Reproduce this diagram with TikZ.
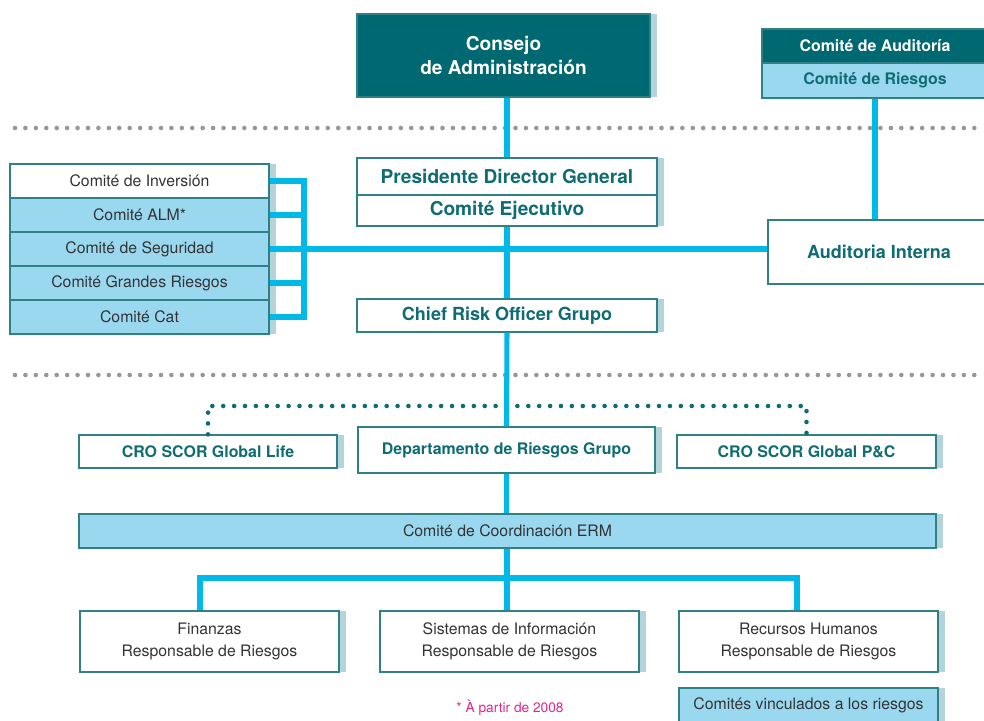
\documentclass[tikz,border=0pt]{standalone}
\usepackage{fontspec}
\setmainfont{TeX Gyre Heros}
\usetikzlibrary{shadows}

\definecolor{sdark}{HTML}{006870}
\definecolor{stext}{HTML}{0F6C72}
\definecolor{sedge}{HTML}{2F8186}
\definecolor{slite}{HTML}{9AD8F0}
\definecolor{sline}{HTML}{00B9E8}
\definecolor{sshade}{HTML}{B4D4DC}
\definecolor{sgray}{HTML}{979797}
\definecolor{spink}{HTML}{E6228C}

\newcommand\fbig{\bfseries\fontsize{16.3}{21}\selectfont}
\newcommand\fmid{\bfseries\fontsize{15.4}{19}\selectfont}
\newcommand\fsmall{\bfseries\fontsize{13.6}{17}\selectfont}
\newcommand\freg{\fontsize{13.5}{19}\selectfont}
\newcommand\fnote{\fontsize{11.7}{14}\selectfont}

\tikzset{
  box/.style={draw=sedge, line width=1.1pt, fill=white, inner sep=0pt, align=center,
    general shadow={fill=sshade, shadow xshift=0.21cm}},
  litebox/.style={box, fill=slite},
  darkbox/.style={box, fill=sdark, text=white},
  link/.style={sline, line width=4.3pt},
  dotlink/.style={stext, line width=3.9pt, line cap=round, dash pattern=on 0pt off 9.3pt},
  graydots/.style={sgray, line width=3.9pt, line cap=round, dash pattern=on 0pt off 8.9pt},
}

\begin{document}
\begin{tikzpicture}[x=0.03cm, y=-0.03cm]
\clip (0,0) rectangle (984,720);
% separators
\draw[graydots] (15,128) -- (984,128);
\draw[graydots] (15,375) -- (984,375);
% top level
\node[darkbox, minimum width=8.79cm, minimum height=2.49cm, font=\fbig] (consejo) at (503.5,55.5) {Consejo\\de Administración};
\node[darkbox, minimum width=6.78cm, minimum height=1.02cm, font=\fsmall] (auditoria) at (875,46) {Comité de Auditoría};
\node[litebox, minimum width=6.78cm, minimum height=1.05cm, font=\fsmall, text=stext] (riesgos) at (875,80.5) {Comité de Riesgos};
% management
\node[box, minimum width=9cm, minimum height=1.11cm, font=\fbig, text=stext] (presidente) at (507,176.5) {Presidente Director General};
\node[box, minimum width=9cm, minimum height=0.93cm, font=\fbig, text=stext] (ejecutivo) at (507,210.5) {Comité Ejecutivo};
\node[box, minimum width=9cm, minimum height=0.99cm, font=\fmid, text=stext] (cro) at (507,315.5) {Chief Risk Officer Grupo};
\node[box, minimum width=6.66cm, minimum height=1.92cm, font=\fmid, text=stext] (interna) at (879,252) {Auditoria Interna};
% committees
\foreach \i/\fc/\lab in {1/white/{Comité de Inversión}, 2/slite/{Comité ALM*}, 3/slite/{Comité de Seguridad},
    4/slite/{Comité Grandes Riesgos}, 5/slite/{Comité Cat}}
  \node[box, fill=\fc, minimum width=7.77cm, minimum height=1.02cm, font=\freg, text=black!80] (c\i) at (139.5,147+34*\i) {\lab};
% risk level
\node[box, minimum width=7.74cm, minimum height=0.99cm, font=\fsmall, text=stext] (life) at (208,451.5) {CRO SCOR Global Life};
\node[box, minimum width=8.91cm, minimum height=1.38cm, font=\fsmall, text=stext] (depto) at (506.5,450) {Departamento de Riesgos Grupo};
\node[box, minimum width=7.77cm, minimum height=0.99cm, font=\fsmall, text=stext] (pc) at (806.5,451.5) {CRO SCOR Global P\&C};
\node[litebox, minimum width=25.71cm, minimum height=1.02cm, font=\freg, text=black!80] (erm) at (507.5,531) {Comité de Coordinación ERM};
% responsables
\foreach \nm/\x/\lab in {finanzas/209.5/Finanzas, sistemas/509.5/Sistemas de Información, rrhh/808.5/Recursos Humanos}
  \node[box, minimum width=7.77cm, minimum height=1.83cm, font=\freg, text=black!80] (\nm) at (\x,641.5) {\lab\\Responsable de Riesgos};
\node[litebox, minimum width=7.77cm, minimum height=1.02cm, font=\freg, text=black!80] (vinculados) at (808.5,705) {Comités vinculados a los riesgos};
\node[font=\fnote, text=spink] (nota) at (510,708) {* À partir de 2008};
% dotted links
\coordinate (dotbar) at (507,406);
\draw[dotlink] (life.north) |- (dotbar) -| (pc.north);
% links
\coordinate (brk) at (304,249);
\coordinate (bl) at (200,578);
\coordinate (bm) at (507,578);
\coordinate (br) at (797,578);
\draw[link] (presidente.north) -- (presidente.north |- consejo.south);
\draw[link] (riesgos.south) -- (riesgos.south |- interna.north);
\draw[link] (ejecutivo.south) -- (cro.north);
\draw[link] (cro.south) -- (depto.north);
\draw[link] (depto.south) -- (depto.south |- erm.north);
\draw[link] (c1.east) -| (brk) |- (c5.east);
\foreach \i in {2,4}
  \draw[link] (c\i.east) -- (c\i.east -| brk);
\draw[link] (c3.east) -- (c3.east -| interna.west);
\draw[link] (bm |- erm.south) -- (bm |- sistemas.north);
\draw[link] (bl |- finanzas.north) -- (bl) -- (br) -- (br |- rrhh.north);
\end{tikzpicture}
\end{document}
